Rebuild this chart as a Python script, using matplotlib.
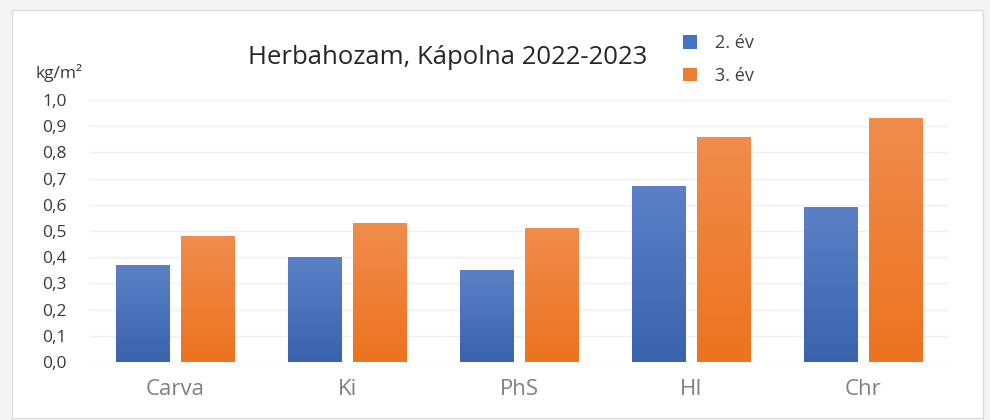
import numpy as np
import matplotlib.pyplot as plt
from matplotlib.patches import Rectangle
from matplotlib.colors import LinearSegmentedColormap

categories = ['Carva', 'Ki', 'PhS', 'HI', 'Chr']
ev2 = [0.37, 0.40, 0.35, 0.67, 0.59]
ev3 = [0.48, 0.53, 0.51, 0.86, 0.93]
series_labels = ['2. év', '3. év']
yticks = [i / 10 for i in range(11)]
ytick_labels = [f'{v:.1f}'.replace('.', ',') for v in yticks]

plt.rcParams['font.family'] = ['Open Sans', 'DejaVu Sans']

fig = plt.figure(figsize=(9.9, 4.2), dpi=100)
fig.patch.set_facecolor('#f4f4f4')
fig.patches.append(Rectangle((12 / 990, 2 / 420), 971 / 990, 408 / 420, transform=fig.transFigure,
                             facecolor='white', edgecolor='#dcdcdc', linewidth=1, zorder=-5))

ax = fig.add_axes([0.09, 0.138, 0.869, 0.624])
ax.set_facecolor('none')

x = np.arange(len(categories))
w = 0.31
off = 0.19

# gradient fills (lighter at the top), clipped to each bar
blue_cm = LinearSegmentedColormap.from_list('b', ['#3a63ae', '#5b80c6'])
orange_cm = LinearSegmentedColormap.from_list('o', ['#ec731f', '#f08c4c'])
grad = np.linspace(0, 1, 100).reshape(-1, 1)

for vals, shift, cm, col, lab in [(ev2, -off, blue_cm, '#4472c4', series_labels[0]),
                                  (ev3, off, orange_cm, '#ed7d31', series_labels[1])]:
    bars = ax.bar(x + shift, vals, w, color=col, label=lab, zorder=2)
    for b in bars:
        im = ax.imshow(grad, cmap=cm, origin='lower', aspect='auto', zorder=3,
                       extent=[b.get_x(), b.get_x() + b.get_width(), 0, b.get_height()])
        im.set_clip_path(b)

ax.set_xlim(-0.5, 4.5)
ax.set_ylim(0, 1.0)
ax.set_yticks(yticks)
ax.set_yticklabels(ytick_labels, fontsize=12.5, color='#3a3a3a')
ax.set_xticks(x)
ax.set_xticklabels(categories, fontsize=16, color='#808080')
ax.tick_params(length=0)
ax.tick_params(axis='x', pad=12)
ax.tick_params(axis='y', pad=16)
ax.grid(axis='y', color='#efefef', linewidth=1, zorder=0)
ax.set_axisbelow(True)
for s in ax.spines.values():
    s.set_visible(False)

fig.text(448 / 990, 1 - 57 / 420, 'Herbahozam, Kápolna 2022-2023', ha='center', va='center',
         fontsize=18.5, color='#262626')
fig.text(59 / 990, 1 - 73 / 420, 'kg/m²', ha='center', va='center', fontsize=12.5, color='#3a3a3a')

leg = ax.legend(loc='upper left', bbox_to_anchor=(667 / 990, 1 - 18 / 420), bbox_transform=fig.transFigure,
                frameon=False, fontsize=13, handlelength=0.75, handleheight=0.75, labelspacing=0.8,
                handletextpad=1.0, labelcolor='#404040')

fig.savefig('out.png', dpi=100, facecolor=fig.get_facecolor())
